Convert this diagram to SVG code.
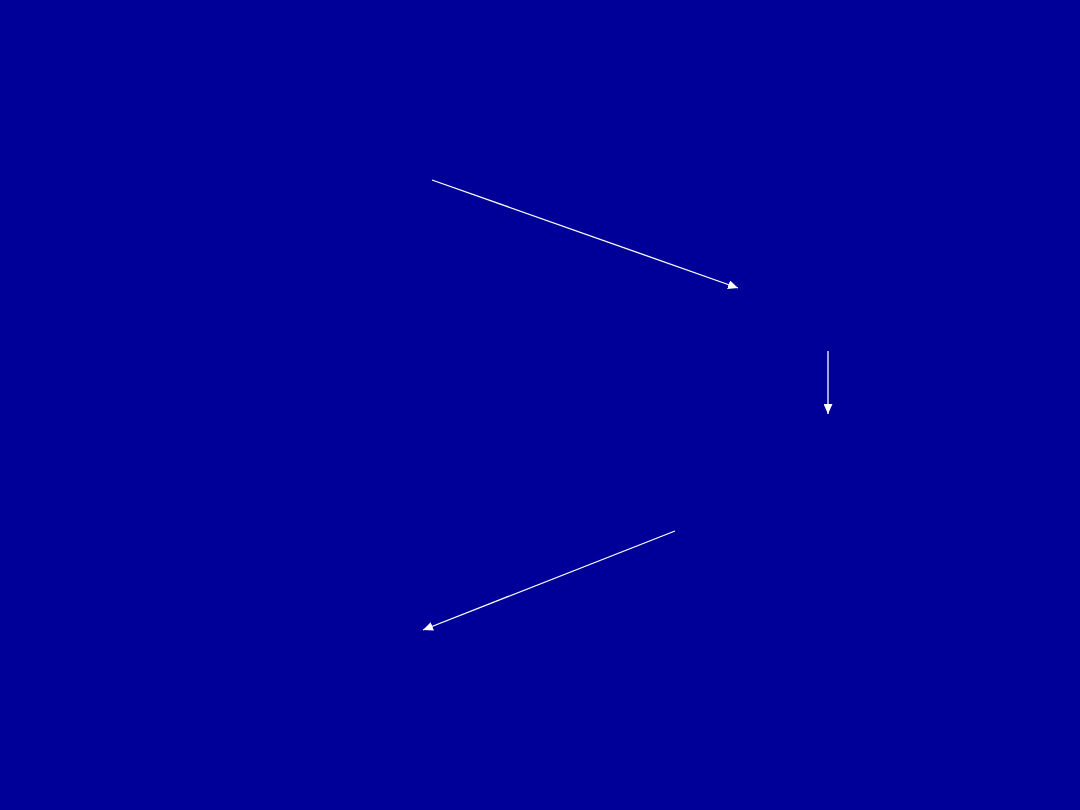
<svg xmlns="http://www.w3.org/2000/svg" width="1080" height="810" viewBox="0 0 1080 810">
<defs>
<style>.c{stroke:#ffffff;stroke-width:1.3;fill:none;marker-end:url(#ah)}</style>
<marker id="ah" viewBox="0 0 10 10" refX="10" refY="5" markerWidth="10" markerHeight="9" markerUnits="userSpaceOnUse" orient="auto" preserveAspectRatio="none"><path d="M0,0 L10,5 L0,10 z" fill="#ffffff"/></marker>
</defs>
<rect x="0" y="0" width="1080" height="810" fill="#000099"/>
<g id="connectors">
<line class="c" x1="432" y1="180" x2="738" y2="288"/>
<line class="c" x1="828" y1="351" x2="828" y2="414"/>
<line class="c" x1="675" y1="531" x2="423" y2="630"/>
</g>
</svg>
